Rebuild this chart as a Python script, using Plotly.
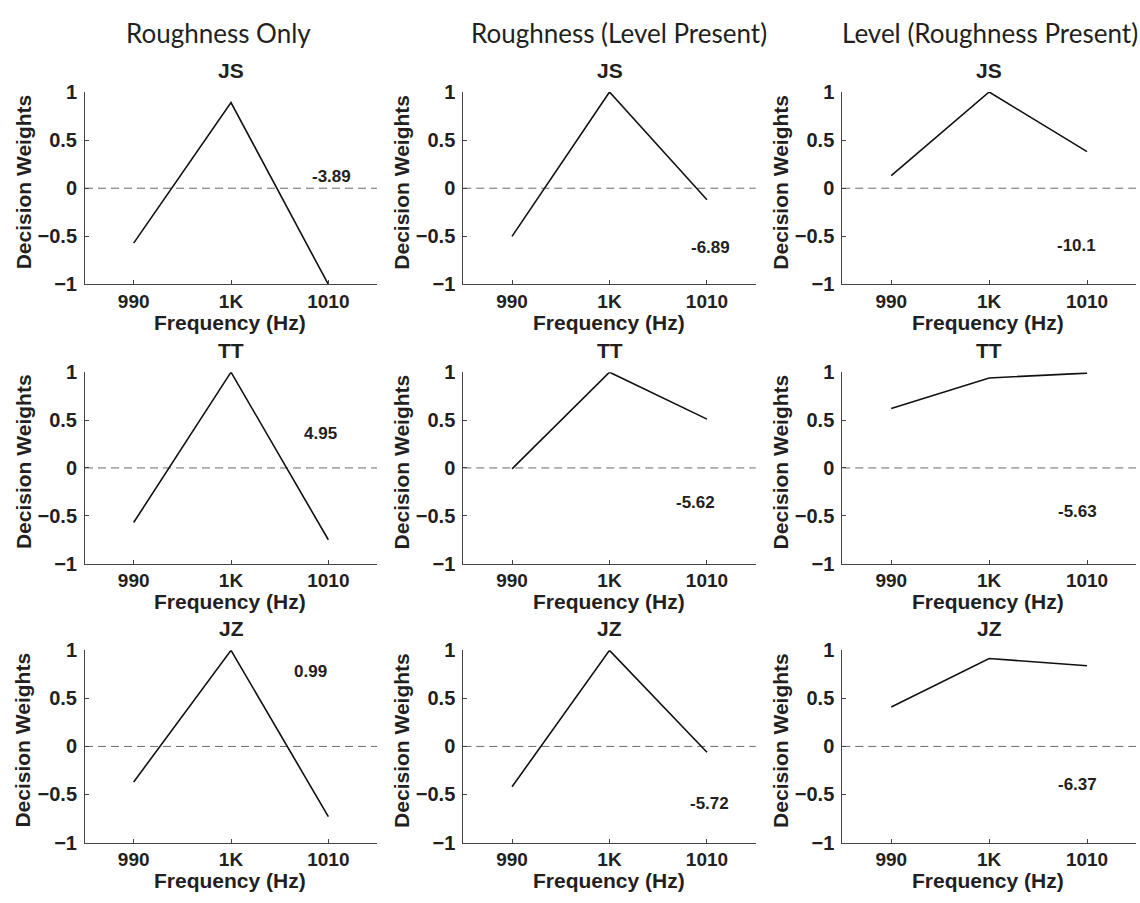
import plotly.graph_objects as go

# ---------------- data ----------------
freqs = [990, 1000, 1010]
freq_labels = ["990", "1K", "1010"]
subjects = ["JS", "TT", "JZ"]
conditions = ["Roughness Only", "Roughness (Level Present)", "Level (Roughness Present)"]

rough_only_JS = [-0.57, 0.89, -1.00]
rough_only_TT = [-0.57, 1.00, -0.75]
rough_only_JZ = [-0.37, 1.00, -0.73]

rough_level_JS = [-0.50, 1.00, -0.12]
rough_level_TT = [-0.01, 1.00, 0.51]
rough_level_JZ = [-0.42, 1.00, -0.06]

level_rough_JS = [0.13, 1.00, 0.38]
level_rough_TT = [0.62, 0.94, 0.99]
level_rough_JZ = [0.41, 0.915, 0.84]

rough_only_stats = ["-3.89", "4.95", "0.99"]
rough_level_stats = ["-6.89", "-5.62", "-5.72"]
level_rough_stats = ["-10.1", "-5.63", "-6.37"]

y_tickvals = [-1, -0.5, 0, 0.5, 1]
y_ticktext = ["\u22121", "\u22120.5", "0", "0.5", "1"]

# ---------------- layout helpers ----------------
W, H = 1140, 903
col_left = [85, 463.3, 842.3]
col_right = [377, 755.7, 1136]
row_top = [83, 370.2, 655.3]
row_bottom = [280.3, 566.5, 852.3]

# label positions (data coords) for the statistic annotations
stat_pos = [
    [(1010.3, 0.12), (1010.4, -0.62), (1008.9, -0.60)],
    [(1009.2, 0.36), (1008.8, -0.36), (1009.0, -0.45)],
    [(1008.2, 0.78), (1010.3, -0.59), (1009.0, -0.40)],
]
col_title_x = [218, 619, 990]

series = [
    [rough_only_JS, rough_level_JS, level_rough_JS],
    [rough_only_TT, rough_level_TT, level_rough_TT],
    [rough_only_JZ, rough_level_JZ, level_rough_JZ],
]
stats = [rough_only_stats, rough_level_stats, level_rough_stats]

TXT = "#231f20"
BOLD = "Liberation Sans, Arial, Helvetica, sans-serif"
REG = "Lato, Open Sans, sans-serif"


def px(x):
    return x / W


def py(y):
    return 1 - y / H


fig = go.Figure()
layout = dict(
    width=W, height=H, autosize=False,
    margin=dict(l=0, r=0, t=0, b=0, pad=0),
    paper_bgcolor="white", plot_bgcolor="white",
    showlegend=False,
)
annotations = []
shapes = []

for r in range(3):
    for c in range(3):
        i = r * 3 + c + 1
        xa = "xaxis" if i == 1 else f"xaxis{i}"
        ya = "yaxis" if i == 1 else f"yaxis{i}"
        xr = "x" if i == 1 else f"x{i}"
        yr = "y" if i == 1 else f"y{i}"
        layout[xa] = dict(
            domain=[px(col_left[c]), px(col_right[c])],
            anchor=yr, range=[985, 1015],
            tickvals=freqs, ticktext=freq_labels,
            ticks="inside", ticklen=4, tickcolor="#444", tickwidth=1,
            showline=True, linecolor="#444", linewidth=1,
            showgrid=False, zeroline=False,
            tickfont=dict(family=BOLD, size=19, color=TXT, weight="bold"),
            fixedrange=True,
        )
        layout[ya] = dict(
            domain=[py(row_bottom[r]), py(row_top[r])],
            anchor=xr, range=[-1, 1],
            tickvals=y_tickvals, ticktext=y_ticktext,
            ticks="inside", ticklen=4, tickcolor="#444", tickwidth=1,
            showline=True, linecolor="#444", linewidth=1,
            showgrid=False, zeroline=False,
            tickfont=dict(family=BOLD, size=20, color=TXT, weight="bold"),
            ticklabelstandoff=3,
            fixedrange=True,
        )
        # dashed zero reference line
        shapes.append(dict(
            type="line", xref=f"{xr} domain", yref=yr,
            x0=0, x1=1, y0=0, y1=0,
            line=dict(color="#6a6a6a", width=1, dash="8px,5px"),
            layer="below",
        ))
        fig.add_trace(go.Scatter(
            x=freqs, y=series[r][c], mode="lines",
            line=dict(color="#111111", width=1.6),
            xaxis=xr, yaxis=yr, hoverinfo="skip",
        ))
        sx, sy = stat_pos[r][c]
        annotations.append(dict(
            x=sx, y=sy, xref=xr, yref=yr, text=stats[c][r],
            showarrow=False, xanchor="center", yanchor="middle",
            font=dict(family=BOLD, size=17, color=TXT, weight="bold"),
        ))
        cx = (col_left[c] + col_right[c]) / 2
        # subplot title
        annotations.append(dict(
            x=px(cx), y=py(row_top[r] - 22), xref="paper", yref="paper",
            text=subjects[r], showarrow=False, xanchor="center", yanchor="middle",
            font=dict(family=BOLD, size=21, color=TXT, weight="bold"),
        ))
        # x-axis title
        annotations.append(dict(
            x=px(cx - 1), y=py(row_bottom[r] + 39), xref="paper", yref="paper",
            text="Frequency (Hz)", showarrow=False, xanchor="center", yanchor="middle",
            font=dict(family=BOLD, size=21, color=TXT, weight="bold"),
            borderpad=0,
        ))
        # y-axis title
        annotations.append(dict(
            x=px(col_left[c] - 62), y=py((row_top[r] + row_bottom[r]) / 2 - 6),
            xref="paper", yref="paper",
            text="Decision Weights", showarrow=False, textangle=-90,
            xanchor="center", yanchor="middle",
            font=dict(family=BOLD, size=21, color=TXT, weight="bold"),
        ))

for c in range(3):
    annotations.append(dict(
        x=px(col_title_x[c]), y=py(23), xref="paper", yref="paper",
        text=conditions[c], showarrow=False, xanchor="center", yanchor="middle",
        font=dict(family=REG, size=26, color=TXT),
    ))

layout["annotations"] = annotations
layout["shapes"] = shapes
fig.update_layout(**layout)
fig.write_html("out.html")
